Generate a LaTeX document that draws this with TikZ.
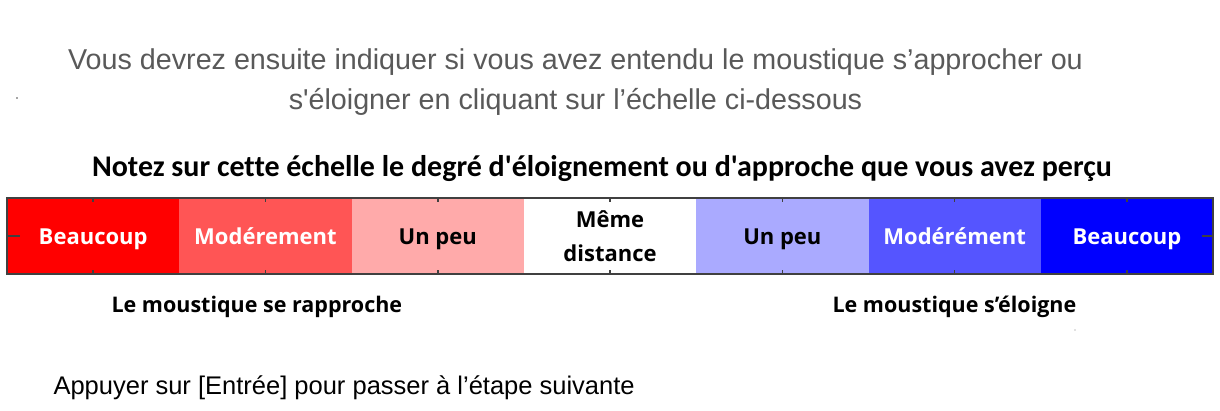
\documentclass[tikz,border=0pt]{standalone}
\usepackage{fontspec}
\setmainfont{Liberation Sans}[Ligatures=TeXOff]
\newfontfamily\calib{Carlito}[Ligatures={TeXOff,NoCommon}]
\newfontfamily\osans{Open Sans}[Ligatures={TeXOff,NoCommon}]
\definecolor{txtgray}{RGB}{89,89,89}
\definecolor{edge}{RGB}{64,64,64}
\definecolor{c1}{RGB}{255,0,0}
\definecolor{c2}{RGB}{255,85,85}
\definecolor{c3}{RGB}{255,170,170}
\definecolor{c4}{RGB}{255,255,255}
\definecolor{c5}{RGB}{170,170,255}
\definecolor{c6}{RGB}{85,85,255}
\definecolor{c7}{RGB}{0,0,255}
\begin{document}
\begin{tikzpicture}[x=1pt,y=-1pt,
  seg/.style={draw=none,minimum width=172.3pt,minimum height=75pt,inner sep=0pt,
    font=\osans\bfseries\fontsize{22}{34}\selectfont,align=center},
  one/.style={text height=20pt,text depth=2pt},
  wtext/.style={text=white},
  btext/.style={text=black},
  tick/.style={draw=edge,line width=1.6pt},
  lab/.style={font=\osans\bfseries\fontsize{21.5}{24}\selectfont,anchor=base west}
]
\useasboundingbox (0,0) rectangle (1220,411);
\fill[white] (0,0) rectangle (1220,411);
% intro text
\node[font=\fontsize{28.7}{34}\selectfont,text=txtgray,anchor=base] (intro1) at (575.5,70) {Vous devrez ensuite indiquer si vous avez entendu le moustique s’approcher ou};
\node[font=\fontsize{28.7}{34}\selectfont,text=txtgray,anchor=base] (intro2) at (575.5,110) {s'éloigner en cliquant sur l’échelle ci-dessous};
% title
\node[font=\calib\bfseries\fontsize{30}{34}\selectfont,anchor=base] (title) at (602,177) {Notez sur cette échelle le degré d'éloignement ou d'approche que vous avez perçu};
% segments
\node[seg,one,fill=c1,wtext] (s1) at (93.15,236) {Beaucoup};
\node[seg,one,fill=c2,wtext] (s2) at (265.45,236) {Modérement};
\node[seg,one,fill=c3,btext] (s3) at (437.75,236) {Un peu};
\node[seg,fill=c4,btext] (s4) at (610.05,236) {Même\\distance};
\node[seg,one,fill=c5,btext] (s5) at (782.35,236) {Un peu};
\node[seg,one,fill=c6,wtext] (s6) at (954.65,236) {Modérément};
\node[seg,one,fill=c7,wtext] (s7) at (1126.95,236) {Beaucoup};
% frame
\draw[edge,line width=2pt] (s1.north west) rectangle (s7.south east);
% ticks
\foreach \s in {s1,s2,s3,s4,s5,s6,s7}{
  \draw[tick] (\s.north) -- ++(0,4);
  \draw[tick] (\s.south) -- ++(0,-4);
}
\draw[tick] (s1.west) -- ++(13,0);
\draw[tick] (s7.east) -- ++(-11,0);
% labels
\node[lab] (lleft) at (108,313) {Le moustique se rapproche};
\node[lab] (lright) at (829,313) {Le moustique s’éloigne};
% footer
\node[font=\fontsize{25.5}{30}\selectfont,anchor=base west] (foot) at (50,394) {Appuyer sur [Entrée] pour passer à l’étape suivante};
% stray dots
\fill[black!70] (17,98) circle (0.8);
\fill[black!50] (1075,330) circle (0.6);
\end{tikzpicture}
\end{document}
